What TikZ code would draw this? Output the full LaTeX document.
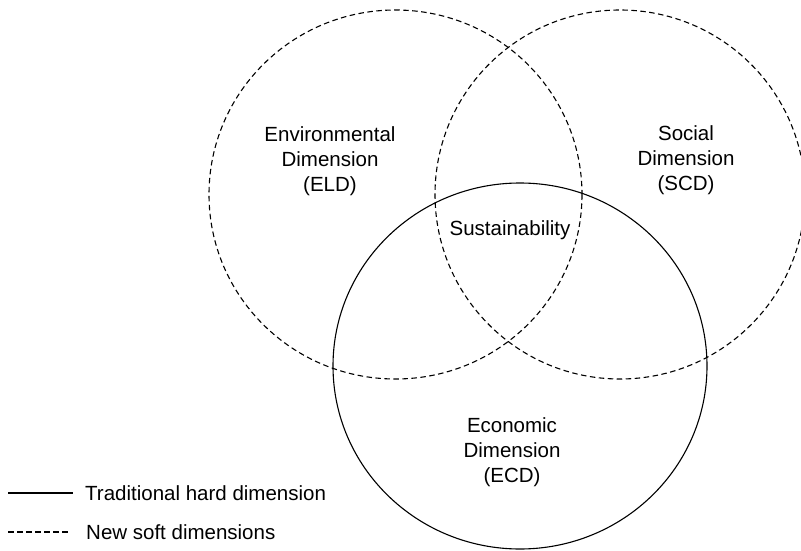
\documentclass[tikz,border=0pt]{standalone}
\usepackage{fontspec}
\setmainfont{Liberation Sans}
\begin{document}
\begin{tikzpicture}[x=1pt,y=-1pt,
  lbl/.style={align=center,anchor=base,inner sep=0pt,font=\fontsize{20.5}{25}\selectfont},
  leg/.style={anchor=base west,inner sep=0pt,font=\fontsize{20.5}{25}\selectfont},
  hard/.style={draw=black,line width=1.1pt},
  soft/.style={draw=black,line width=1.1pt,dash pattern=on 5.5pt off 3.5pt}]
\useasboundingbox (0,0) rectangle (801,551);
\clip (0,0) rectangle (801,551);
% circles
\draw[soft] (395.5,194.5) ellipse [x radius=186.5, y radius=184.5];
\draw[soft] (620,194.5) ellipse [x radius=185, y radius=184.5];
\draw[hard] (520,366) ellipse [x radius=187, y radius=183];
% labels
\node[lbl] (eld) at (330,191) {Environmental\\Dimension\\(ELD)};
\node[lbl] (scd) at (686,190) {Social\\Dimension\\(SCD)};
\node[lbl] (sus) at (510,235) {Sustainability};
\node[lbl] (ecd) at (512,482) {Economic\\Dimension\\(ECD)};
% legend
\coordinate (h1) at (8,493);
\coordinate (h2) at (73,493);
\coordinate (s1) at (8,532);
\coordinate (s2) at (68,532);
\draw[hard] (h1) -- (h2);
\draw[soft] (s1) -- (s2);
\node[leg] (lh) at (85,500) {Traditional hard dimension};
\node[leg] (ls) at (86,539) {New soft dimensions};
\end{tikzpicture}
\end{document}
